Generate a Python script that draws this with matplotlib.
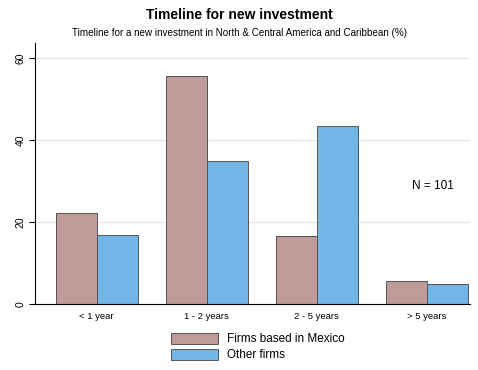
import matplotlib
matplotlib.use("Agg")
import matplotlib.pyplot as plt
import numpy as np

plt.rcParams['font.family'] = ['Liberation Sans', 'DejaVu Sans']

categories = ["< 1 year", "1 - 2 years", "2 - 5 years", "> 5 years"]
mexico = [22.2, 55.6, 16.7, 5.6]
other = [16.9, 34.9, 43.4, 4.8]
series_names = ["Firms based in Mexico", "Other firms"]

col_mex = "#c09a98"
col_oth = "#72b6e8"

fig = plt.figure(figsize=(4.78, 3.70), dpi=100)
ax = fig.add_axes([35 / 478, 66 / 370, (470 - 35) / 478, 261 / 370])

x = np.arange(len(categories))
w = 0.373
b1 = ax.bar(x - w / 2, mexico, w, color=col_mex, edgecolor="#555555", linewidth=0.7)
b2 = ax.bar(x + w / 2, other, w, color=col_oth, edgecolor="#555555", linewidth=0.7)

ax.set_xlim(-0.561, (470 - 96.7) / 110)
ax.set_ylim(0, 63.7)
ax.set_yticks([0, 20, 40, 60])
ax.set_yticklabels(["0", "20", "40", "60"], rotation=90, va="center", fontsize=7.5)
ax.set_xticks(x)
ax.set_xticklabels(categories, fontsize=6.8)
ax.tick_params(axis="x", length=0, pad=6)
ax.tick_params(axis="y", length=4, width=0.8, pad=3)

ax.grid(axis="y", color="#e6e6e6", linewidth=0.9)
ax.set_axisbelow(True)
for s in ["top", "right"]:
    ax.spines[s].set_visible(False)
ax.spines["left"].set_linewidth(0.8)
ax.spines["bottom"].set_linewidth(0.8)

ax.text(3.06, 28.8, "N = 101", fontsize=8.5, ha="center", va="center")

fig.text(0.5, 1 - 15 / 370, "Timeline for new investment", ha="center", va="center",
         fontsize=10, fontweight="bold")
fig.text(0.5, 1 - 33 / 370,
         "Timeline for a new investment in North & Central America and Caribbean (%)",
         ha="center", va="center", fontsize=7.1)

fig.legend([b1, b2], series_names, loc="center left",
           bbox_to_anchor=(160 / 478, 1 - 347 / 370),
           ncol=1, frameon=False, fontsize=8.5, handlelength=4.0, handleheight=1.1,
           handletextpad=0.8, labelspacing=0.3)

fig.savefig("out.png", dpi=100)
